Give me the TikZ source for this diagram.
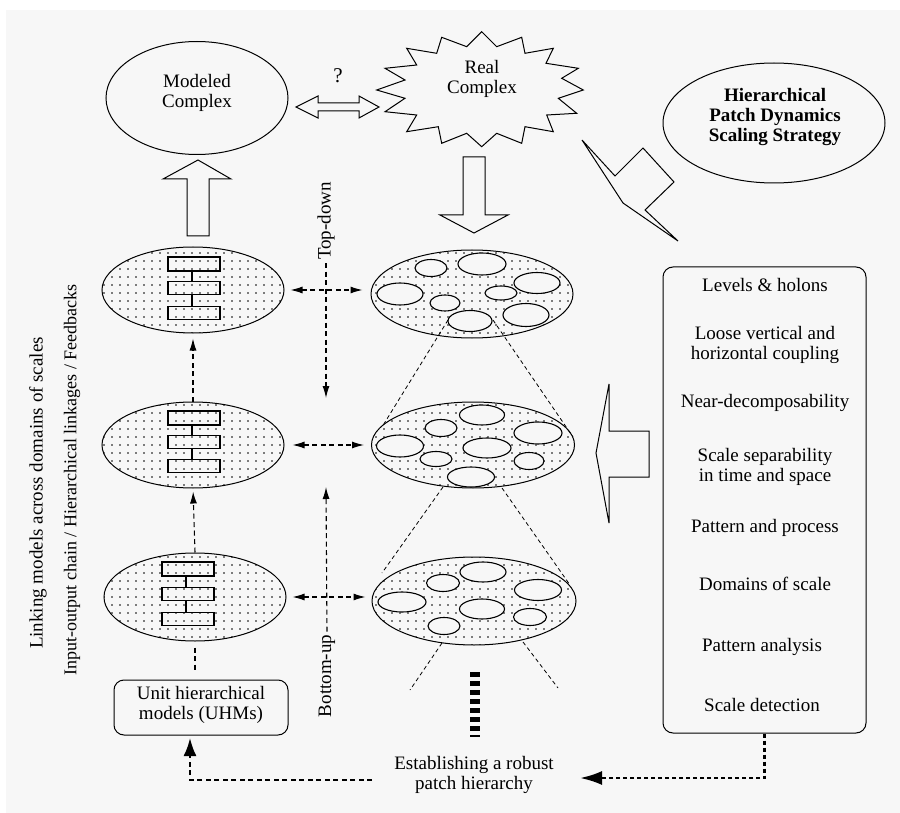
\documentclass[tikz,border=0pt]{standalone}
\usepackage{fontspec}
\setmainfont{Liberation Serif}
\usetikzlibrary{shapes.geometric,arrows.meta,patterns}
\pgfdeclarepatternformonly{sparsedots}{\pgfqpoint{-1.5pt}{-1.5pt}}{\pgfqpoint{1.5pt}{1.5pt}}{\pgfqpoint{8pt}{8pt}}{\pgfpathcircle{\pgfqpoint{0pt}{0pt}}{0.85pt}\pgfusepath{fill}}
\definecolor{bg}{RGB}{247,247,247}
\begin{document}
\begin{tikzpicture}[x=1pt,y=-1pt,
  txt/.style={font=\fontsize{19}{20}\selectfont, align=center, inner sep=0pt},
  sidetxt/.style={font=\fontsize{18}{20}\selectfont, align=center, inner sep=0pt, rotate=90},
  btxt/.style={font=\fontsize{19}{20}\selectfont\bfseries, align=center, inner sep=0pt},
  hollow/.style={draw, line width=1pt, fill=bg, line join=miter},
  levelell/.style={ellipse, draw, line width=1pt, inner sep=0pt, pattern=sparsedots},
  patch/.style={draw, line width=1.1pt, fill=bg},
  unitrect/.style={draw, line width=1.2pt},
  dline/.style={line width=1.1pt, dash pattern=on 5pt off 3.5pt},
  cone/.style={line width=0.8pt, dash pattern=on 4pt off 3pt},
  tip/.style={-{Latex[length=12pt,width=7pt]}},
  twotips/.style={{Latex[length=12pt,width=7pt]}-{Latex[length=12pt,width=7pt]}},
  roundbox/.style={draw, line width=1pt, rounded corners=10pt, inner sep=0pt}
]
\useasboundingbox (0,0) rectangle (900,813);
\fill[white] (0,0) rectangle (900,813);
\fill[bg] (6,10) rectangle (900,813);

% ---- top: modeled complex, real complex ----
\node[ellipse, draw, line width=1pt, inner sep=0pt, minimum width=182pt, minimum height=113pt] (MC) at (197,98) {};
\node[txt] (MCt) at (197,93) {Modeled\\Complex};

\draw[hollow] (481.7,31.7) -- (496.7,46.7) -- (521.7,37.3) -- (525,53.3) -- (553.3,48.3) -- (546,63.3)
  -- (578.3,68.3) -- (561.7,78.3) -- (583.3,90) -- (558.3,98.3) -- (576.7,113.3) -- (546.7,115)
  -- (553.3,131.7) -- (525,126.7) -- (521.7,143.3) -- (496.7,133.3) -- (481.7,146.7) -- (466.7,133.3)
  -- (441.7,143.3) -- (438.3,126.7) -- (406.7,131.7) -- (416.7,115) -- (385,111.7) -- (405,98.3)
  -- (376.7,90) -- (405,80) -- (385,68.3) -- (416.7,65) -- (406.7,48.3) -- (436.7,53.3)
  -- (441.7,37.3) -- (466.7,46.7) -- cycle;
\node[txt] (RC) at (482,79) {Real\\Complex};

% double arrow with question mark
\draw[hollow] (296,107) -- (318,96) -- (318,103) -- (359,103) -- (359,96) -- (379,107)
  -- (359,118) -- (359,111) -- (318,111) -- (318,118) -- cycle;
\node[txt, font=\fontsize{21}{22}\selectfont] (Q) at (338,76) {?};

% Hierarchical strategy ellipse
\node[ellipse, draw, line width=1pt, inner sep=0pt, minimum width=222pt, minimum height=120pt] (HS) at (774,123) {};
\node[btxt] (HSt) at (775,117) {Hierarchical\\Patch Dynamics\\Scaling Strategy};

% lightning bolt
\draw[hollow] (582,140) -- (615,176) -- (643,148) -- (674,182) -- (645,210) -- (678,241) -- (623,203) -- cycle;

% hollow up arrow and down arrow
\draw[hollow] (187,236) -- (187,179) -- (163,179) -- (198,160) -- (231,179) -- (209,179) -- (209,236) -- cycle;
\draw[hollow] (463,157) -- (463,215) -- (440,215) -- (474,233) -- (508,215) -- (485,215) -- (485,157) -- cycle;

% ---- left column: model levels ----
\node[levelell, minimum width=182pt, minimum height=86pt] (L1) at (193,290) {};
\node[levelell, minimum width=182pt, minimum height=86pt] (L2) at (193,445) {};
\node[levelell, minimum width=182pt, minimum height=88pt] (L3) at (195,597) {};

\foreach \cx/\ya/\yb/\yc in {194/264/288/313, 194/418/442/466, 188/569/594/619}{
  \draw[line width=1.2pt] (\cx-2,\ya+7) -- (\cx-2,\yb-6.5) (\cx-2,\yb+6.5) -- (\cx-2,\yc-6.5);
  \draw[unitrect] (\cx-26,\ya-7) rectangle (\cx+26,\ya+7);
  \draw[unitrect] (\cx-26,\yb-6.5) rectangle (\cx+26,\yb+6.5);
  \draw[unitrect] (\cx-26,\yc-6.5) rectangle (\cx+26,\yc+6.5);
}

\node[roundbox, minimum width=174pt, minimum height=55pt] (UHM) at (201,707.5) {};
\node[txt] (UHMt) at (201,705) {Unit hierarchical\\models (UHMs)};

\draw[dline, tip, shorten >=5pt] (L2.north) -- (L1.south);
\draw[dline, tip, shorten >=3pt] (L3.north) -- (L2.south);
\draw[dline, shorten <=6pt, shorten >=7pt] (L3.south) -- (UHM.north -| L3.south);

% ---- right column: patch levels ----
\node[levelell, minimum width=202pt, minimum height=88pt] (P1) at (472,294) {};
\node[levelell, minimum width=203pt, minimum height=86pt] (P2) at (473,445) {};
\node[levelell, minimum width=204pt, minimum height=88pt] (P3) at (474,601) {};

\foreach \x/\y/\rx/\ry in {
  431/268/16/8.5, 482/264/24/11, 537/283/23/10.5, 400/294/23/11,
  445/303/15/8, 501/293/16/7, 526/315/23/11.5, 470/321/22/10.5,
  441/428/16/8.5, 482/415/22.5/10, 538/433/24/11, 400/446/23.5/11,
  487/448/24/10, 436/459/16/7.5, 529/461/15/8.5, 471/477/23.5/10,
  483/572/23/10, 443/583/16.5/8.5, 538/590/23.5/10.5, 402/602/24/10,
  482/609/22.5/10, 530/617/16.5/8.5, 444/626/16/8.5}{
  \draw[patch] (\x,\y) ellipse [x radius=\rx pt, y radius=\ry pt];
}

% cone lines
\draw[cone] (448,320) -- (382,427);
\draw[cone] (493,320) -- (573,437);
\draw[cone] (443,487) -- (382,573);
\draw[cone] (502,488) -- (570,585);
\draw[cone] (442,643) -- (410,690);
\draw[cone] (523,642) -- (558,688);

% horizontal links
\draw[dline, twotips, shorten <=6pt, shorten >=8pt] (L1.east) -- (L1.east -| P1.west);
\draw[dline, twotips, shorten <=8pt, shorten >=7pt] (L2.east) -- (L2.east -| P2.west);
\draw[dline, twotips, shorten <=6pt, shorten >=6pt] (L3.east) -- (L3.east -| P3.west);

% top-down / bottom-up
\node[txt, rotate=90] (TD) at (326,221) {Top-down};
\node[txt, rotate=90] (BU) at (327,676) {Bottom-up};
\coordinate (tdEnd) at (326,398);
\coordinate (buEnd) at (326,487);
\draw[dline, tip, shorten <=3pt] (TD.west) -- (tdEnd);
\draw[dline, tip, shorten <=3pt] (BU.east) -- (buEnd);

% left labels
\node[sidetxt, font=\fontsize{19}{20}\selectfont] (LK) at (38,493) {Linking models across domains of scales};
\node[sidetxt] (IO) at (72,480) {Input-output chain / Hierarchical linkages / Feedbacks};

% ---- right box ----
\node[roundbox, minimum width=203pt, minimum height=466pt] (RB) at (764.5,500) {};
\node[txt] (b1) at (765,285) {Levels \& holons};
\node[txt] (b2) at (765,345) {Loose vertical and\\horizontal coupling};
\node[txt] (b3) at (765,403) {Near-decomposability};
\node[txt] (b4) at (765,467) {Scale separability\\in time and space};
\node[txt] (b5) at (765,528) {Pattern and process};
\node[txt] (b6) at (765,584) {Domains of scale};
\node[txt] (b7) at (762,647) {Pattern analysis};
\node[txt] (b8) at (762,705) {Scale detection};

% big hollow left arrow
\draw[hollow] (649,431) -- (609,431) -- (609,384) -- (596,453) -- (609,523) -- (609,477) -- (649,477) -- cycle;

% ---- bottom ----
\draw[line width=10pt, dash pattern=on 5pt off 4pt] (475,672) -- (475,737);
\node[txt] (EST) at (474,775) {Establishing a robust\\patch hierarchy};
\coordinate (feedL) at (372,780);
\coordinate (fbTop) at (190,735);
\coordinate (feedR) at (580,778);
\draw[line width=2.2pt, dash pattern=on 5pt off 3.5pt, -{Latex[length=18pt,width=13pt]}, shorten >=3pt]
  (feedL) -| (fbTop);
\draw[line width=2.6pt, dash pattern=on 4pt off 3pt, -{Latex[length=22pt,width=14pt]}]
  (RB.south) |- (feedR);
\end{tikzpicture}
\end{document}
